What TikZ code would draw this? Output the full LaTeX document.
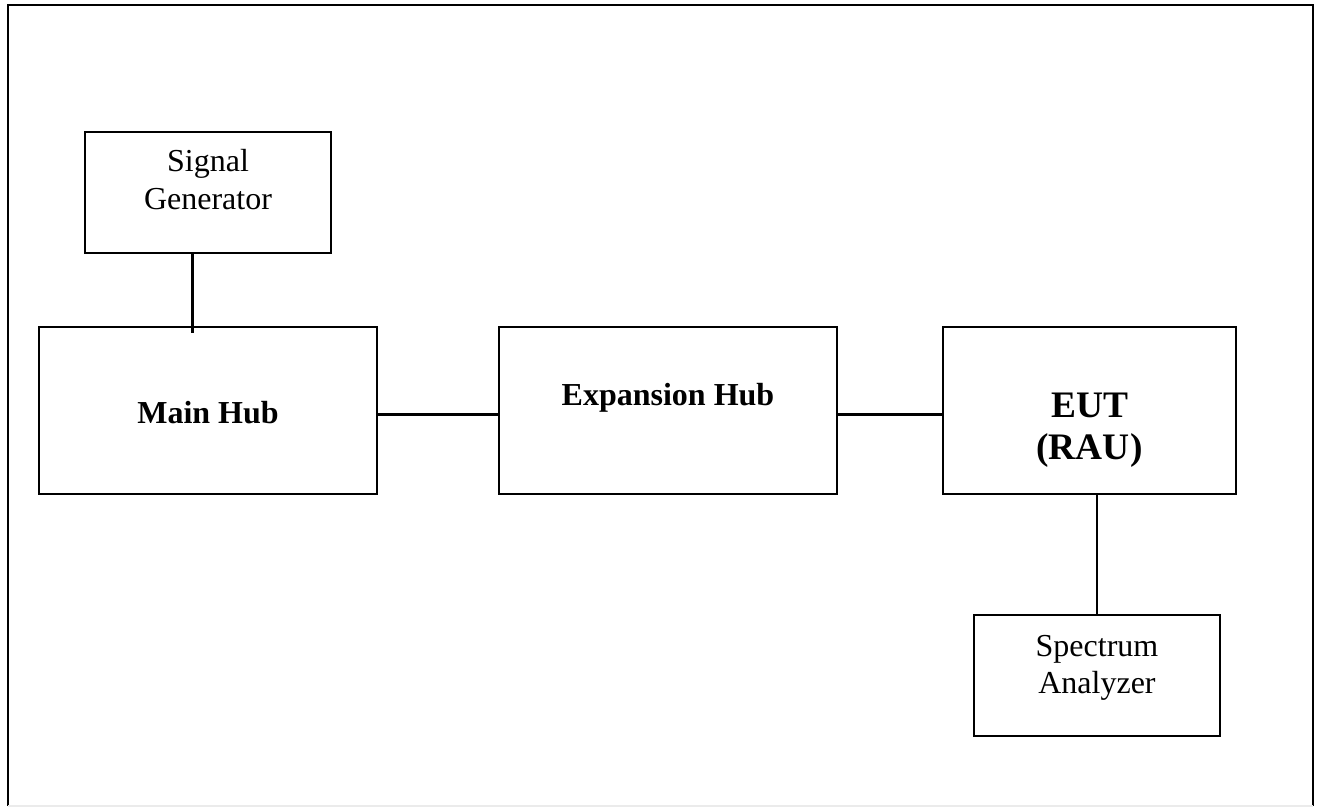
\documentclass[tikz,border=0pt]{standalone}
\usepackage{fontspec}
\setmainfont{Liberation Serif}
\begin{document}
\begin{tikzpicture}[x=0.5pt,y=-0.5pt,
  box/.style={draw=black,line width=1pt,anchor=north west,inner sep=0pt,outer sep=0pt},
  smallbox/.style={box,minimum width=123pt,minimum height=60.5pt},
  bigbox/.style={box,minimum width=169pt,minimum height=83.5pt},
  txt/.style={anchor=base,inner sep=0pt,font=\fontsize{16pt}{18pt}\selectfont},
  btxt/.style={txt,font=\fontsize{16pt}{18pt}\selectfont\bfseries},
  ltxt/.style={txt,font=\fontsize{18.7pt}{21pt}\selectfont\bfseries},
  conn/.style={draw=black,line width=1.5pt},
  thinconn/.style={draw=black,line width=1pt},
  frame/.style={draw=black,line width=1.1pt}]
\useasboundingbox (0,0) rectangle (1319,808);
% frame
\coordinate (f1) at (8,806);
\coordinate (f2) at (8,5);
\coordinate (f3) at (1313,5);
\coordinate (f4) at (1313,806);
\draw[frame] (f1) -- (f2) -- (f3) -- (f4);
\draw[draw=black!8,line width=0.6pt] (f1) -- (f4);
% boxes
\node[smallbox] (sig) at (85,132) {};
\node[bigbox] (main) at (39,327) {};
\node[bigbox] (exp) at (499,327) {};
\node[box,minimum width=146.5pt,minimum height=83.5pt] (eut) at (943,327) {};
\node[smallbox] (spec) at (974,615) {};
% texts
\node[txt] (sig1) at (208,172) {Signal};
\node[txt] (sig2) at (208,210) {Generator};
\node[btxt] (mainl) at (208,423) {Main Hub};
\node[btxt] (expl) at (668,405) {Expansion Hub};
\node[ltxt] (eut1) at (1089.5,417) {EUT};
\node[ltxt] (eut2) at (1089.5,459) {(RAU)};
\node[txt] (spec1) at (1097,656) {Spectrum};
\node[txt] (spec2) at (1097,693) {Analyzer};
% connectors
\coordinate (sgx) at (192,0);
\coordinate (ly) at (0,414);
\draw[conn] (sig.south -| sgx) -- ([yshift=-3pt]main.north -| sgx);
\draw[conn] (main.east |- ly) -- (exp.west |- ly);
\draw[conn] (exp.east |- ly) -- (eut.west |- ly);
\draw[thinconn] (spec.north |- eut.south) -- (spec.north);
\end{tikzpicture}
\end{document}
